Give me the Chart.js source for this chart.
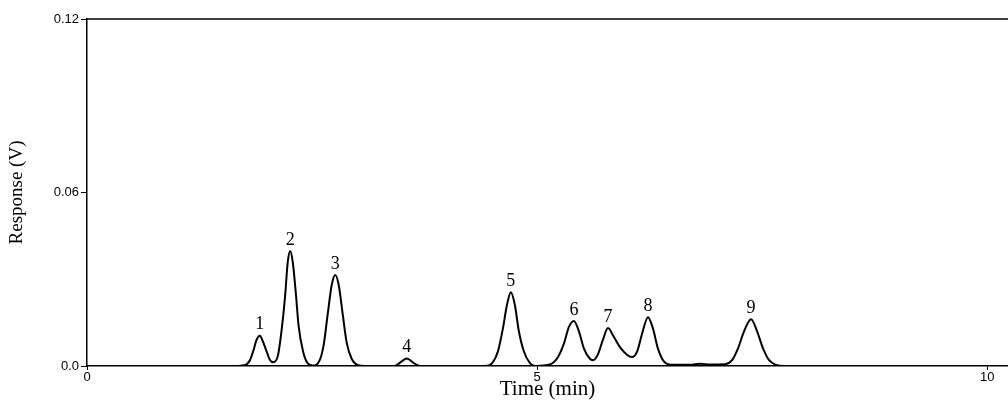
<!DOCTYPE html>
<html>
<head>
<meta charset="utf-8">
<script src="https://cdn.jsdelivr.net/npm/chart.js@4.4.1/dist/chart.umd.min.js"></script>
<style>
  html, body { margin: 0; padding: 0; background: #fff; }
  #wrap { width: 1008px; height: 402px; }
</style>
</head>
<body>
<div id="wrap"><canvas id="myChart" width="1008" height="402"></canvas></div>
<script>
// trace (time in min, response in V)
let times = [
    0.78, 1.60, 1.75, 1.81, 1.85, 1.88, 1.92, 1.95, 1.99, 2.03, 2.07,
    2.12, 2.16, 2.20, 2.23, 2.257, 2.285, 2.32, 2.35, 2.40, 2.45, 2.51,
    2.585, 2.63, 2.674, 2.718, 2.757, 2.796, 2.84, 2.885, 2.94, 3.01, 3.085,
    3.42, 3.47, 3.552, 3.63, 3.70,
    4.42, 4.50, 4.564, 4.62, 4.664, 4.708, 4.753, 4.797, 4.853, 4.92, 4.986,
    5.14, 5.23, 5.30, 5.353, 5.408, 5.464, 5.52, 5.586, 5.62,
    5.675, 5.73, 5.787, 5.853, 5.92, 6.0, 6.053,
    6.11, 6.164, 6.231, 6.286, 6.342, 6.41, 6.5, 6.70, 6.81, 6.92,
    7.087, 7.165, 7.23, 7.298, 7.376, 7.443, 7.51, 7.576, 7.654, 7.75, 10.23
];
let response = [
    0.0, 0.0, 0.0003, 0.002, 0.0055, 0.0088, 0.0105, 0.0088, 0.0055, 0.0022, 0.0013,
    0.0035, 0.012, 0.024, 0.036, 0.0398, 0.036, 0.025, 0.014, 0.005, 0.001, 0.0002,
    0.002, 0.0075, 0.018, 0.028, 0.0315, 0.028, 0.018, 0.008, 0.0025, 0.0003, 0.0,
    0.0, 0.001, 0.0026, 0.001, 0.0,
    0.0, 0.001, 0.005, 0.013, 0.021, 0.0255, 0.021, 0.012, 0.005, 0.001, 0.0,
    0.0005, 0.003, 0.008, 0.0135, 0.0156, 0.012, 0.006, 0.0025, 0.002,
    0.004, 0.009, 0.0131, 0.010, 0.0065, 0.0038, 0.0031,
    0.005, 0.011, 0.0169, 0.013, 0.006, 0.0015, 0.0004, 0.0004, 0.0008, 0.0005,
    0.0006, 0.002, 0.006, 0.012, 0.0162, 0.012, 0.006, 0.002, 0.0004, 0.0, 0.0
];

// peak numbers
let peakLabels = ['1', '2', '3', '4', '5', '6', '7', '8', '9'];
let peakTimes = [1.92, 2.257, 2.757, 3.552, 4.708, 5.408, 5.787, 6.231, 7.376];
let peakTops = [0.0105, 0.0398, 0.0315, 0.0026, 0.0255, 0.0156, 0.0131, 0.0169, 0.0162];

let xTicks = [0, 5, 10];
let yTicks = [0, 0.06, 0.12];

let points = [];
for (let i = 0; i < times.length; i++) {
    points.push({ x: times[i], y: response[i] });
}

const peakNumbers = {
    id: 'peakNumbers',
    afterDatasetsDraw(chart) {
        let ctx = chart.ctx;
        let xs = chart.scales.x;
        let ys = chart.scales.y;
        ctx.save();
        // top frame line
        ctx.strokeStyle = '#000';
        ctx.lineWidth = 1.5;
        ctx.beginPath();
        ctx.moveTo(chart.chartArea.left, chart.chartArea.top);
        ctx.lineTo(chart.chartArea.right, chart.chartArea.top);
        ctx.stroke();
        ctx.fillStyle = '#000';
        ctx.font = '18px "Liberation Serif", "DejaVu Serif", serif';
        ctx.textAlign = 'center';
        ctx.textBaseline = 'bottom';
        for (let i = 0; i < peakLabels.length; i++) {
            let px = xs.getPixelForValue(peakTimes[i]);
            let py = ys.getPixelForValue(peakTops[i]);
            ctx.fillText(peakLabels[i], px, py - 2);
        }
        ctx.restore();
    }
};

var ctx = document.getElementById('myChart');
var chart = new Chart(ctx, {
    type: 'scatter',
    data: {
        datasets: [
            {
                label: 'Response',
                data: points,
                showLine: true,
                borderColor: '#000',
                borderWidth: 2,
                pointRadius: 0,
                fill: false,
                cubicInterpolationMode: 'monotone',
            },
        ]
    },
    options: {
        responsive: false,
        animation: false,
        layout: { padding: { top: 19, right: 0, left: 0, bottom: 0 } },
        scales: {
            x: {
                type: 'linear',
                min: 0,
                max: 10.23,
                afterBuildTicks(scale) { scale.ticks = xTicks.map(v => ({ value: v })); },
                afterFit(scale) { scale.height = 36; },
                grid: { display: true, drawOnChartArea: false, drawTicks: true, tickLength: 4, color: '#000' },
                border: { display: true, color: '#000', width: 1.5 },
                ticks: {
                    color: '#000',
                    padding: 0,
                    maxRotation: 0,
                    font: { size: 13, family: 'Arial, "Liberation Sans", sans-serif' },
                },
                title: {
                    display: true,
                    text: 'Time (min)',
                    color: '#000',
                    padding: { top: 0, bottom: 0 },
                    font: { size: 21, family: '"Liberation Serif", "DejaVu Serif", serif' }
                }
            },
            y: {
                min: 0,
                max: 0.12,
                afterBuildTicks(scale) { scale.ticks = yTicks.map(v => ({ value: v })); },
                afterFit(scale) { scale.width = 87; },
                grid: { display: true, drawOnChartArea: false, drawTicks: true, tickLength: 6, color: '#000' },
                border: { display: true, color: '#000', width: 1.5 },
                ticks: {
                    color: '#000',
                    padding: 2,
                    font: { size: 13, family: 'Arial, "Liberation Sans", sans-serif' },
                    callback: v => (v === 0 ? '0.0' : v.toFixed(2))
                },
                title: {
                    display: true,
                    text: 'Response (V)',
                    color: '#000',
                    padding: { top: 6, bottom: 0 },
                    font: { size: 19, family: '"Liberation Serif", "DejaVu Serif", serif' }
                }
            }
        },
        plugins: {
            legend: { display: false },
            tooltip: { enabled: false },
        },
    },
    plugins: [peakNumbers]
});
</script>
</body>
</html>
